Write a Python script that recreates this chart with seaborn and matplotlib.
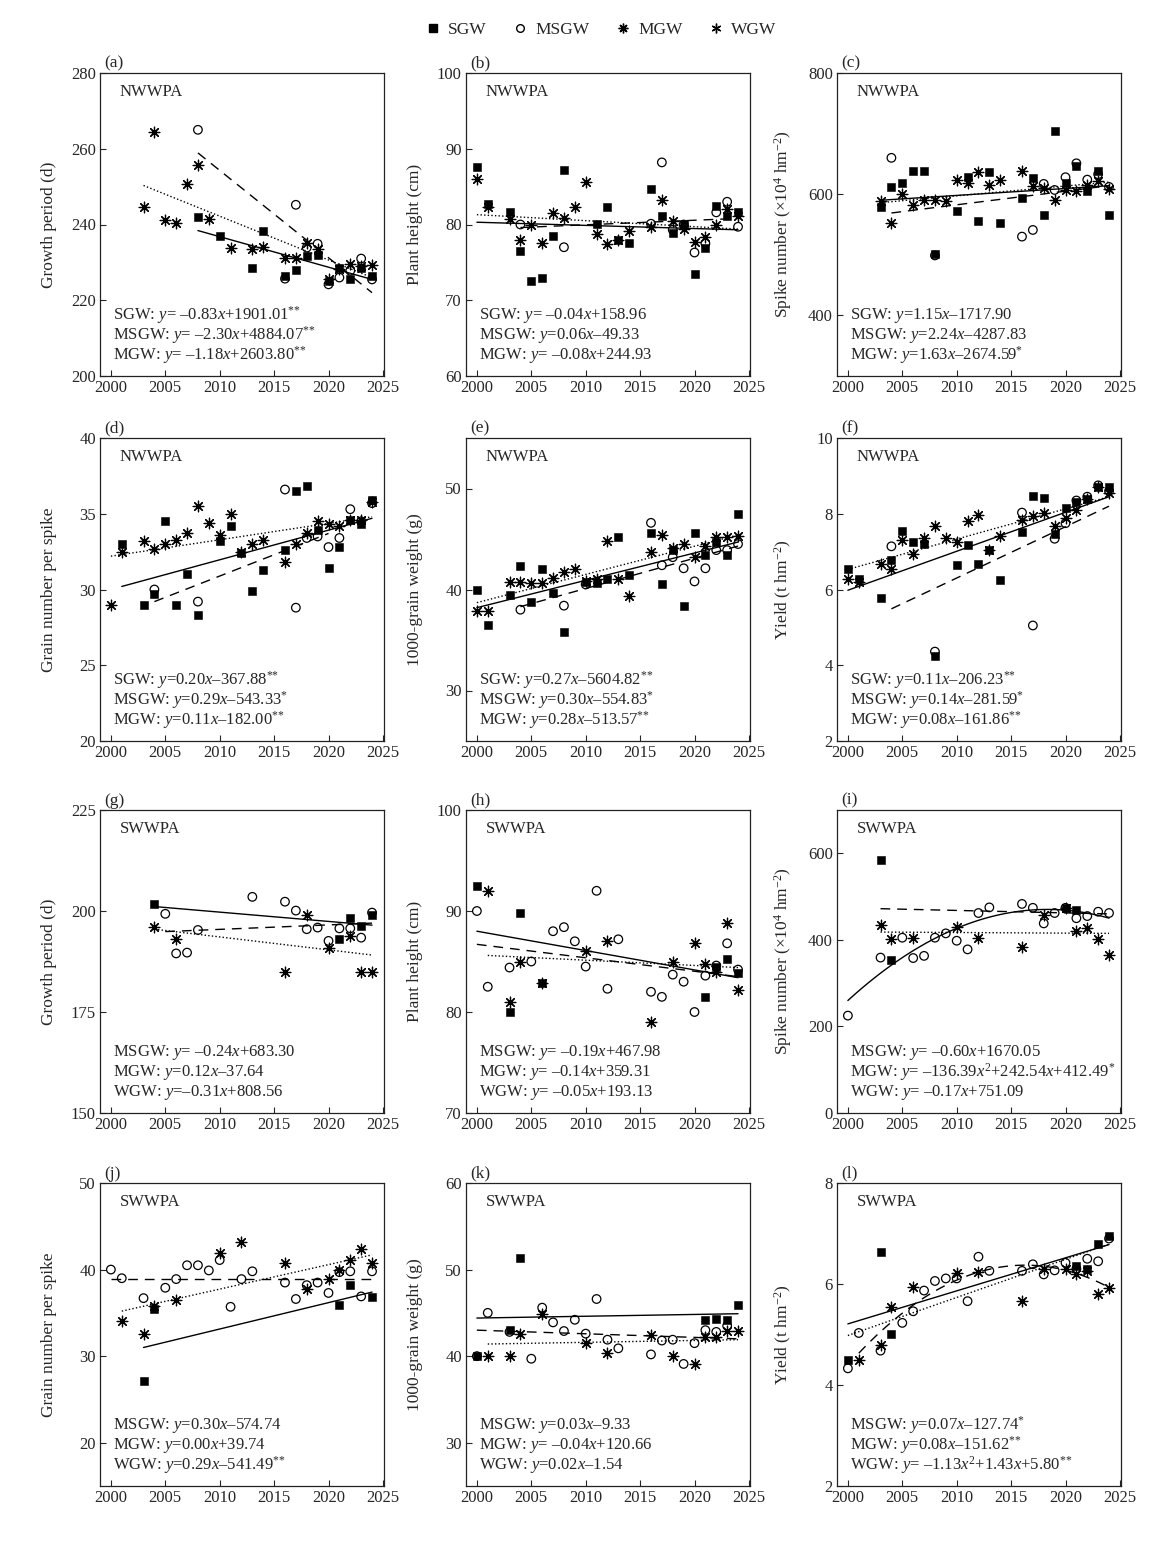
import numpy as np
import matplotlib
matplotlib.use("Agg")
import matplotlib.pyplot as plt
from matplotlib.lines import Line2D
import seaborn as sns

# ---------------- data ----------------
# (a) NWWPA growth period (d)
a_sgw = [(2008, 242.1), (2010, 237.0), (2013, 228.4), (2014, 238.2), (2016, 226.4), (2017, 227.9),
         (2018, 231.6), (2019, 232.0), (2020, 225.0), (2021, 228.4), (2022, 225.5), (2023, 228.4), (2024, 226.4)]
a_msgw = [(2008, 265.0), (2016, 225.7), (2017, 245.2), (2018, 233.9), (2019, 234.9), (2020, 224.2),
          (2021, 226.0), (2022, 227.8), (2023, 231.0), (2024, 225.5)]
a_mgw = [(2003, 244.6), (2004, 264.4), (2005, 241.1), (2006, 240.3), (2007, 250.7), (2008, 255.6), (2009, 241.5),
         (2011, 233.9), (2013, 233.6), (2014, 234.1), (2016, 231.1), (2017, 231.1), (2018, 235.2), (2019, 233.5),
         (2020, 225.5), (2021, 228.3), (2022, 229.7), (2023, 229.0), (2024, 229.2)]
a_fits = [[(2008, 238.4), (2024, 225.5)], [(2008, 258.9), (2024, 222.0)], [(2003, 250.3), (2024, 226.0)]]
a_eqs = ["SGW: $y$= –0.83$x$+1901.01$^{{*}{*}}$", "MSGW: $y$= –2.30$x$+4884.07$^{{*}{*}}$",
         "MGW: $y$= –1.18$x$+2603.80$^{{*}{*}}$"]

# (b) NWWPA plant height (cm)
b_sgw = [(2000, 87.6), (2001, 82.7), (2003, 81.7), (2004, 76.5), (2005, 72.5), (2006, 72.9), (2007, 78.5),
         (2008, 87.2), (2011, 80.1), (2012, 82.3), (2013, 77.9), (2014, 77.5), (2016, 84.7), (2017, 81.1),
         (2018, 78.9), (2019, 80.1), (2020, 73.4), (2021, 76.9), (2022, 82.4), (2023, 81.1), (2024, 81.6)]
b_msgw = [(2004, 80.0), (2008, 77.0), (2016, 80.1), (2017, 88.2), (2018, 79.3), (2019, 80.0), (2020, 76.3),
          (2021, 77.5), (2022, 81.6), (2023, 83.0), (2024, 79.7)]
b_mgw = [(2000, 86.0), (2001, 82.3), (2003, 80.7), (2004, 78.0), (2005, 79.9), (2006, 77.5), (2007, 81.5),
         (2008, 80.9), (2009, 82.3), (2010, 85.6), (2011, 78.8), (2012, 77.4), (2013, 78.0), (2014, 79.2),
         (2016, 79.7), (2017, 83.2), (2018, 80.4), (2019, 79.4), (2020, 77.7), (2021, 78.4), (2022, 79.9),
         (2023, 82.0), (2024, 81.1)]
b_fits = [[(2000, 80.3), (2024, 79.3)], [(2004, 79.6), (2024, 80.8)], [(2000, 81.3), (2024, 79.4)]]
b_eqs = ["SGW: $y$= –0.04$x$+158.96", "MSGW: $y$=0.06$x$–49.33", "MGW: $y$= –0.08$x$+244.93"]

# (c) NWWPA spike number
c_sgw = [(2003, 579), (2004, 612), (2005, 619), (2006, 639), (2007, 639), (2008, 501), (2010, 573),
         (2011, 628), (2012, 556), (2013, 637), (2014, 553), (2016, 594), (2017, 627), (2018, 565),
         (2019, 704), (2020, 618), (2021, 647), (2022, 605), (2023, 638), (2024, 565)]
c_msgw = [(2004, 660), (2008, 499), (2016, 530), (2017, 541), (2018, 617), (2019, 607), (2020, 628),
          (2021, 651), (2022, 624), (2023, 633), (2024, 612)]
c_mgw = [(2003, 589), (2004, 552), (2005, 600), (2006, 582), (2007, 590), (2008, 590), (2009, 589),
         (2010, 623), (2011, 619), (2012, 636), (2013, 616), (2014, 623), (2016, 639), (2017, 613),
         (2018, 611), (2019, 590), (2020, 607), (2021, 606), (2022, 615), (2023, 622), (2024, 609)]
c_fits = [[(2003, 590), (2024, 614)], [(2004, 569), (2024, 614)], [(2003, 586), (2024, 620)]]
c_eqs = ["SGW: $y$=1.15$x$–1717.90", "MSGW: $y$=2.24$x$–4287.83", "MGW: $y$=1.63$x$–2674.59$^{*}$"]

# (d) NWWPA grain number per spike
d_sgw = [(2001, 33.0), (2003, 29.0), (2004, 29.7), (2005, 34.5), (2006, 29.0), (2007, 31.0), (2008, 28.3),
         (2010, 33.2), (2011, 34.2), (2012, 32.4), (2013, 29.9), (2014, 31.3), (2016, 32.6), (2017, 36.5),
         (2018, 36.8), (2019, 33.9), (2020, 31.4), (2021, 32.8), (2022, 34.6), (2023, 34.3), (2024, 35.9)]
d_msgw = [(2004, 30.0), (2008, 29.2), (2016, 36.6), (2017, 28.8), (2018, 33.4), (2019, 33.5), (2020, 32.8),
          (2021, 33.4), (2022, 35.3), (2023, 34.5), (2024, 35.7)]
d_mgw = [(2000, 29.0), (2001, 32.5), (2003, 33.2), (2004, 32.7), (2005, 33.0), (2006, 33.3), (2007, 33.7),
         (2008, 35.5), (2009, 34.4), (2010, 33.6), (2011, 35.0), (2012, 32.5), (2013, 33.0), (2014, 33.3),
         (2016, 31.8), (2017, 33.0), (2018, 33.7), (2019, 34.5), (2020, 34.3), (2021, 34.2), (2022, 34.6),
         (2023, 34.6), (2024, 35.8)]
d_fits = [[(2001, 30.2), (2024, 34.7)], [(2004, 29.2), (2020, 33.7)], [(2000, 32.2), (2024, 34.8)]]
d_eqs = ["SGW: $y$=0.20$x$–367.88$^{{*}{*}}$", "MSGW: $y$=0.29$x$–543.33$^{*}$",
         "MGW: $y$=0.11$x$–182.00$^{{*}{*}}$"]

# (e) NWWPA 1000-grain weight
e_sgw = [(2000, 40.0), (2001, 36.5), (2003, 39.5), (2004, 42.3), (2005, 38.8), (2006, 42.0), (2007, 39.7),
         (2008, 35.8), (2010, 40.7), (2011, 40.6), (2012, 41.0), (2013, 45.2), (2014, 41.4), (2016, 45.6),
         (2017, 40.5), (2018, 43.9), (2019, 38.4), (2020, 45.6), (2021, 43.4), (2022, 44.7), (2023, 43.4),
         (2024, 47.5)]
e_msgw = [(2004, 38.0), (2008, 38.4), (2010, 40.5), (2016, 46.6), (2017, 42.4), (2018, 43.2), (2019, 42.1),
          (2020, 40.8), (2021, 42.1), (2022, 43.9), (2023, 43.9), (2024, 44.5)]
e_mgw = [(2000, 37.9), (2001, 37.9), (2003, 40.7), (2004, 40.7), (2005, 40.6), (2006, 40.6), (2007, 41.1),
         (2008, 41.7), (2009, 42.0), (2010, 40.8), (2011, 41.0), (2012, 44.8), (2013, 41.0), (2014, 39.4),
         (2016, 43.7), (2017, 45.4), (2018, 44.1), (2019, 44.5), (2020, 43.2), (2021, 44.3), (2022, 45.2),
         (2023, 45.2), (2024, 45.3)]
e_fits = [[(2000, 38.2), (2024, 44.7)], [(2004, 38.3), (2024, 44.3)], [(2000, 38.7), (2024, 45.4)]]
e_eqs = ["SGW: $y$=0.27$x$–5604.82$^{{*}{*}}$", "MSGW: $y$=0.30$x$–554.83$^{*}$",
         "MGW: $y$=0.28$x$–513.57$^{{*}{*}}$"]

# (f) NWWPA yield
f_sgw = [(2000, 6.55), (2001, 6.29), (2003, 5.78), (2004, 6.77), (2005, 7.55), (2006, 7.26), (2007, 7.21),
         (2008, 4.24), (2010, 6.66), (2011, 7.17), (2012, 6.68), (2013, 7.03), (2014, 6.24), (2016, 7.53),
         (2017, 8.46), (2018, 8.41), (2019, 7.47), (2020, 8.15), (2021, 8.30), (2022, 8.40), (2023, 8.70),
         (2024, 8.70)]
f_msgw = [(2004, 7.14), (2008, 4.36), (2016, 8.03), (2017, 5.05), (2019, 7.34), (2020, 7.75), (2021, 8.35),
          (2022, 8.45), (2023, 8.75), (2024, 8.60)]
f_mgw = [(2000, 6.28), (2001, 6.20), (2003, 6.68), (2004, 6.55), (2005, 7.30), (2006, 6.95), (2007, 7.37),
         (2008, 7.67), (2009, 7.37), (2010, 7.26), (2011, 7.81), (2012, 7.98), (2013, 7.03), (2014, 7.42),
         (2016, 7.84), (2017, 7.95), (2018, 8.03), (2019, 7.67), (2020, 7.90), (2021, 8.10), (2022, 8.40),
         (2023, 8.70), (2024, 8.55)]
f_fits = [[(2000, 5.98), (2024, 8.45)], [(2004, 5.49), (2024, 8.20)], [(2000, 6.53), (2024, 8.45)]]
f_eqs = ["SGW: $y$=0.11$x$–206.23$^{{*}{*}}$", "MSGW: $y$=0.14$x$–281.59$^{*}$",
         "MGW: $y$=0.08$x$–161.86$^{{*}{*}}$"]

# (g) SWWPA growth period
g_sgw = [(2004, 201.7), (2021, 193.1), (2022, 198.3), (2023, 196.4), (2024, 199.0)]
g_msgw = [(2005, 199.3), (2006, 189.5), (2007, 189.7), (2008, 195.3), (2013, 203.5), (2016, 202.3),
          (2017, 200.1), (2018, 195.5), (2019, 195.9), (2020, 192.6), (2021, 195.7), (2022, 195.7),
          (2023, 193.4), (2024, 199.6)]
g_mgw = [(2004, 196.1), (2006, 193.0), (2016, 185.0), (2018, 199.0), (2020, 190.8), (2022, 193.9),
         (2023, 185.0), (2024, 185.0)]
g_fits = [[(2004, 201.1), (2024, 196.5)], [(2005, 194.9), (2024, 197.0)], [(2004, 195.5), (2024, 189.1)]]
g_eqs = ["MSGW: $y$= –0.24$x$+683.30", "MGW: $y$=0.12$x$–37.64", "WGW: $y$=–0.31$x$+808.56"]

# (h) SWWPA plant height
h_sgw = [(2000, 92.5), (2003, 80.0), (2004, 89.8), (2006, 82.9), (2021, 81.5), (2022, 84.5), (2023, 85.2),
         (2024, 83.9)]
h_msgw = [(2000, 90.0), (2001, 82.5), (2003, 84.4), (2005, 85.0), (2007, 88.0), (2008, 88.4), (2009, 87.0),
          (2010, 84.5), (2011, 92.0), (2012, 82.3), (2013, 87.2), (2016, 82.0), (2017, 81.5), (2018, 83.7),
          (2019, 83.0), (2020, 80.0), (2021, 83.6), (2022, 84.6), (2023, 86.8), (2024, 84.2)]
h_mgw = [(2001, 92.0), (2003, 81.0), (2004, 85.0), (2006, 82.9), (2010, 86.0), (2012, 87.0), (2016, 79.0),
         (2018, 85.0), (2020, 86.8), (2021, 84.8), (2022, 84.0), (2023, 88.8), (2024, 82.2)]
h_fits = [[(2000, 88.0), (2024, 83.4)], [(2000, 86.7), (2024, 83.5)], [(2001, 85.6), (2024, 84.4)]]
h_eqs = ["MSGW: $y$= –0.19$x$+467.98", "MGW: $y$= –0.14$x$+359.31", "WGW: $y$= –0.05$x$+193.13"]

# (i) SWWPA spike number
i_sgw = [(2003, 584), (2004, 353), (2020, 474), (2021, 470)]
i_msgw = [(2000, 225), (2003, 359), (2005, 405), (2006, 358), (2007, 363), (2008, 405), (2009, 415),
          (2010, 398), (2011, 378), (2012, 462), (2013, 475), (2016, 483), (2017, 474), (2018, 438),
          (2019, 462), (2020, 474), (2021, 450), (2022, 455), (2023, 465), (2024, 462)]
i_mgw = [(2003, 435), (2004, 401), (2006, 405), (2010, 430), (2012, 405), (2016, 384), (2018, 457),
         (2020, 474), (2021, 420), (2022, 428), (2023, 403), (2024, 366)]
i_fits = [[(2000, 259), (2010, 430), (2018, 466), (2024, 452)], [(2003, 472), (2024, 460)],
          [(2003, 418), (2024, 415)]]
i_eqs = ["MSGW: $y$= –0.60$x$+1670.05", "MGW: $y$= –136.39$x^2$+242.54$x$+412.49$^{*}$",
         "WGW: $y$= –0.17$x$+751.09"]

# (j) SWWPA grain number per spike
j_sgw = [(2003, 27.1), (2004, 35.5), (2021, 35.9), (2022, 38.2), (2024, 36.8)]
j_msgw = [(2000, 40.0), (2001, 39.0), (2003, 36.7), (2005, 37.9), (2006, 38.9), (2007, 40.5), (2008, 40.5),
          (2009, 39.9), (2010, 41.1), (2011, 35.7), (2012, 38.9), (2013, 39.8), (2016, 38.5), (2017, 36.6),
          (2018, 38.2), (2019, 38.5), (2020, 37.3), (2021, 39.7), (2022, 39.8), (2023, 36.9), (2024, 39.8)]
j_mgw = [(2001, 34.1), (2003, 32.6), (2004, 35.8), (2006, 36.5), (2010, 41.9), (2012, 43.2), (2016, 40.8),
         (2018, 37.7), (2020, 38.9), (2021, 40.0), (2022, 41.1), (2023, 42.4), (2024, 40.8)]
j_fits = [[(2003, 31.0), (2024, 37.4)], [(2000, 38.9), (2024, 38.9)], [(2001, 35.2), (2024, 41.7)]]
j_eqs = ["MSGW: $y$=0.30$x$–574.74", "MGW: $y$=0.00$x$+39.74", "WGW: $y$=0.29$x$–541.49$^{{*}{*}}$"]

# (k) SWWPA 1000-grain weight
k_sgw = [(2000, 40.0), (2003, 43.0), (2004, 51.3), (2021, 44.2), (2022, 44.3), (2023, 44.2), (2024, 45.9)]
k_msgw = [(2000, 40.0), (2001, 45.0), (2003, 42.8), (2005, 39.7), (2006, 45.6), (2007, 43.9), (2008, 42.9),
          (2009, 44.2), (2010, 42.6), (2011, 46.6), (2012, 41.9), (2013, 40.9), (2016, 40.2), (2017, 41.8),
          (2018, 41.9), (2019, 39.1), (2020, 41.5), (2021, 43.0), (2022, 42.8), (2023, 43.5)]
k_mgw = [(2001, 40.0), (2003, 40.0), (2004, 42.6), (2006, 44.9), (2010, 41.5), (2012, 40.4), (2016, 42.4),
         (2018, 40.0), (2020, 39.1), (2021, 42.2), (2022, 42.2), (2023, 42.9), (2024, 42.9)]
k_fits = [[(2000, 44.4), (2024, 44.9)], [(2000, 43.0), (2024, 42.0)], [(2001, 41.4), (2024, 41.9)]]
k_eqs = ["MSGW: $y$=0.03$x$–9.33", "MGW: $y$= –0.04$x$+120.66", "WGW: $y$=0.02$x$–1.54"]

# (l) SWWPA yield
l_sgw = [(2000, 4.50), (2003, 6.63), (2004, 5.01), (2021, 6.35), (2022, 6.30), (2023, 6.80), (2024, 6.95)]
l_msgw = [(2000, 4.33), (2001, 5.03), (2003, 4.68), (2005, 5.23), (2006, 5.46), (2007, 5.87), (2008, 6.06),
          (2009, 6.11), (2010, 6.11), (2011, 5.66), (2012, 6.54), (2013, 6.26), (2016, 6.26), (2017, 6.39),
          (2018, 6.19), (2019, 6.27), (2020, 6.42), (2021, 6.30), (2022, 6.50), (2023, 6.45), (2024, 6.90)]
l_mgw = [(2001, 4.49), (2003, 4.80), (2004, 5.54), (2006, 5.95), (2010, 6.21), (2012, 6.24), (2016, 5.67),
         (2018, 6.30), (2020, 6.29), (2021, 6.20), (2022, 6.25), (2023, 5.80), (2024, 5.93)]
l_fits = [[(2000, 5.21), (2024, 6.78)], [(2001, 4.60), (2006, 5.64), (2012, 6.22), (2018, 6.32), (2024, 5.95)],
          [(2000, 4.98), (2024, 6.79)]]
l_eqs = ["MSGW: $y$=0.07$x$–127.74$^{*}$", "MGW: $y$=0.08$x$–151.62$^{{*}{*}}$",
         "WGW: $y$= –1.13$x^2$+1.43$x$+5.80$^{{*}{*}}$"]

YEARS_TICKS = [2000, 2005, 2010, 2015, 2020, 2025]

panels = [
    ("(a)", "NWWPA", "Growth period (d)", (200, 280), [200, 220, 240, 260, 280], a_sgw, a_msgw, a_mgw, a_fits, a_eqs),
    ("(b)", "NWWPA", "Plant height (cm)", (60, 100), [60, 70, 80, 90, 100], b_sgw, b_msgw, b_mgw, b_fits, b_eqs),
    ("(c)", "NWWPA", "Spike number (×10$^4$ hm$^{-2}$)", (300, 800), [400, 600, 800], c_sgw, c_msgw, c_mgw, c_fits, c_eqs),
    ("(d)", "NWWPA", "Grain number per spike", (20, 40), [20, 25, 30, 35, 40], d_sgw, d_msgw, d_mgw, d_fits, d_eqs),
    ("(e)", "NWWPA", "1000-grain weight (g)", (25, 55), [30, 40, 50], e_sgw, e_msgw, e_mgw, e_fits, e_eqs),
    ("(f)", "NWWPA", "Yield (t hm$^{-2}$)", (2, 10), [2, 4, 6, 8, 10], f_sgw, f_msgw, f_mgw, f_fits, f_eqs),
    ("(g)", "SWWPA", "Growth period (d)", (150, 225), [150, 175, 200, 225], g_sgw, g_msgw, g_mgw, g_fits, g_eqs),
    ("(h)", "SWWPA", "Plant height (cm)", (70, 100), [70, 80, 90, 100], h_sgw, h_msgw, h_mgw, h_fits, h_eqs),
    ("(i)", "SWWPA", "Spike number (×10$^4$ hm$^{-2}$)", (0, 700), [0, 200, 400, 600], i_sgw, i_msgw, i_mgw, i_fits, i_eqs),
    ("(j)", "SWWPA", "Grain number per spike", (15, 50), [20, 30, 40, 50], j_sgw, j_msgw, j_mgw, j_fits, j_eqs),
    ("(k)", "SWWPA", "1000-grain weight (g)", (25, 60), [30, 40, 50, 60], k_sgw, k_msgw, k_mgw, k_fits, k_eqs),
    ("(l)", "SWWPA", "Yield (t hm$^{-2}$)", (2, 8), [2, 4, 6, 8], l_sgw, l_msgw, l_mgw, l_fits, l_eqs),
]

# ---------------- style ----------------
sns.set_style("ticks")
plt.rcParams["font.family"] = ["Liberation Serif", "DejaVu Serif"]
plt.rcParams.update({
    "mathtext.fontset": "custom",
    "mathtext.rm": "Liberation Serif",
    "mathtext.it": "Liberation Serif:italic",
    "mathtext.bf": "Liberation Serif:bold",
    "axes.linewidth": 0.9,
    "axes.edgecolor": "#222222",
    "font.size": 12,
})

MGW_MARK = (8, 2, 0)
WGW_MARK = (6, 2, 0)
mk_sgw = dict(marker="s", s=38, color="k", edgecolor="k", linewidth=0.4)
mk_msgw = dict(marker="o", s=38, facecolor="none", edgecolor="k", linewidth=0.9)
mk_mgw = dict(marker=MGW_MARK, s=58, color="k", linewidth=0.9)
fit_styles = ["-", (0, (7, 5)), (0, (1, 1.6))]

FW, FH = 1174, 1549
col_left = [100, 466, 837]
row_top = [73, 438, 810, 1183]
AW, AH = 284, 303

fig = plt.figure(figsize=(FW / 100, FH / 100), dpi=100)

for idx, (tag, region, ylab, ylim, yticks, sgw, msgw, mgw, fits, eqs) in enumerate(panels):
    r, c = divmod(idx, 3)
    ax = fig.add_axes([col_left[c] / FW, 1 - (row_top[r] + AH) / FH, AW / FW, AH / FH])

    for fit, ls in zip(fits, fit_styles):
        fx, fy = zip(*fit)
        if len(fit) > 2:
            coef = np.polyfit(fx, fy, 2)
            xx = np.linspace(fx[0], fx[-1], 80)
            yy = np.polyval(coef, xx)
        else:
            xx, yy = list(fx), list(fy)
        sns.lineplot(x=xx, y=yy, ax=ax, color="k", linewidth=1.0, linestyle=ls, zorder=2)

    for pts, kw in ((sgw, mk_sgw), (msgw, mk_msgw), (mgw, mk_mgw)):
        px, py = zip(*pts)
        sns.scatterplot(x=list(px), y=list(py), ax=ax, legend=False, zorder=3, **kw)

    ax.set_xlim(1999, 2025.1)
    ax.set_ylim(*ylim)
    ax.set_xticks(YEARS_TICKS)
    ax.set_yticks(yticks)
    ax.tick_params(direction="in", length=4.5, width=0.8, top=False, right=False, labelsize=12, pad=3)
    for sp in ax.spines.values():
        sp.set_visible(True)
    ax.set_ylabel(ylab, fontsize=12.5)
    ax.yaxis.set_label_coords(-0.15, 0.5)

    ax.text(0.015, 1.004, tag, transform=ax.transAxes, fontsize=12.5, va="bottom", ha="left")
    ax.text(0.07, 0.965, region, transform=ax.transAxes, fontsize=12, va="top", ha="left")
    for k, eq in enumerate(eqs):
        ax.text(0.045, 0.20 - k * 0.066, eq, transform=ax.transAxes, fontsize=12, va="center", ha="left")

handles = [
    Line2D([], [], linestyle="none", marker="s", color="k", markersize=5.5),
    Line2D([], [], linestyle="none", marker="o", markerfacecolor="none", markeredgecolor="k", markersize=5.5),
    Line2D([], [], linestyle="none", marker=MGW_MARK, color="k", markersize=7, markeredgewidth=1.0),
    Line2D([], [], linestyle="none", marker=WGW_MARK, color="k", markersize=7, markeredgewidth=1.0),
]
fig.legend(handles, ["SGW", "MSGW", "MGW", "WGW"], loc="center", bbox_to_anchor=(601 / FW, 1 - 30 / FH),
           ncol=4, frameon=False, fontsize=12.5, handlelength=0.8, handletextpad=0.5, columnspacing=1.5)

fig.savefig("out.png", dpi=100)
